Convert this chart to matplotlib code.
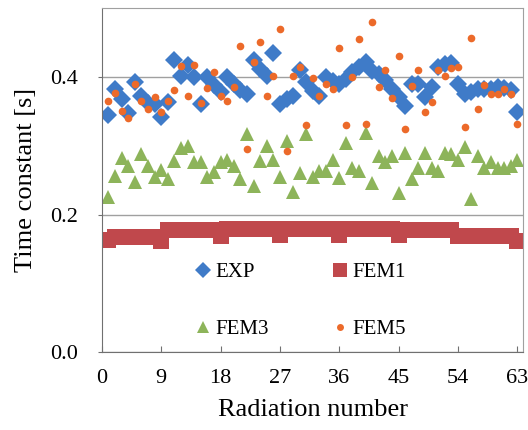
import matplotlib
matplotlib.use('Agg')
import matplotlib.pyplot as plt
from matplotlib.lines import Line2D
import numpy as np

plt.rcParams['font.family'] = ['Liberation Serif', 'DejaVu Serif']

# radiation number 1..63
radiation = np.arange(1, 64)

exp_tc = [0.345, 0.382, 0.368, 0.347, 0.393, 0.373, 0.362, 0.360, 0.342, 0.363,
          0.425, 0.401, 0.418, 0.400, 0.360, 0.400, 0.388, 0.378, 0.400, 0.390,
          0.381, 0.375, 0.424, 0.412, 0.402, 0.435, 0.360, 0.368, 0.372, 0.410,
          0.393, 0.380, 0.372, 0.400, 0.394, 0.390, 0.397, 0.407, 0.415, 0.422,
          0.409, 0.404, 0.395, 0.382, 0.371, 0.358, 0.390, 0.390, 0.371, 0.385,
          0.415, 0.419, 0.420, 0.390, 0.375, 0.378, 0.382, 0.382, 0.383, 0.385,
          0.384, 0.381, 0.349]

fem1_tc = [0.163, 0.168, 0.168, 0.168, 0.168, 0.168, 0.168, 0.168, 0.161,
           0.177, 0.177, 0.177, 0.177, 0.177, 0.177, 0.177, 0.177, 0.169,
           0.179, 0.179, 0.179, 0.179, 0.179, 0.179, 0.179, 0.179, 0.171,
           0.179, 0.179, 0.179, 0.179, 0.179, 0.179, 0.179, 0.179, 0.171,
           0.179, 0.179, 0.179, 0.179, 0.179, 0.179, 0.179, 0.179, 0.171,
           0.177, 0.177, 0.177, 0.177, 0.177, 0.177, 0.177, 0.177, 0.169,
           0.169, 0.169, 0.169, 0.169, 0.169, 0.169, 0.169, 0.169, 0.161]

fem3_tc = [0.225, 0.256, 0.282, 0.270, 0.247, 0.288, 0.270, 0.255, 0.265, 0.251,
           0.278, 0.297, 0.299, 0.277, 0.276, 0.254, 0.262, 0.277, 0.280, 0.270,
           0.251, 0.317, 0.241, 0.278, 0.300, 0.280, 0.254, 0.307, 0.233, 0.261,
           0.317, 0.255, 0.263, 0.264, 0.280, 0.253, 0.304, 0.268, 0.263, 0.318,
           0.246, 0.285, 0.276, 0.285, 0.232, 0.290, 0.251, 0.268, 0.290, 0.268,
           0.263, 0.290, 0.288, 0.280, 0.298, 0.222, 0.285, 0.268, 0.276, 0.268,
           0.268, 0.270, 0.280]

fem5_tc = [0.365, 0.377, 0.350, 0.340, 0.390, 0.365, 0.353, 0.371, 0.349, 0.365,
           0.381, 0.416, 0.372, 0.418, 0.362, 0.384, 0.407, 0.372, 0.365, 0.385,
           0.445, 0.295, 0.422, 0.451, 0.372, 0.401, 0.469, 0.293, 0.401, 0.414,
           0.330, 0.398, 0.372, 0.390, 0.382, 0.442, 0.330, 0.400, 0.455, 0.331,
           0.480, 0.385, 0.410, 0.369, 0.431, 0.324, 0.387, 0.410, 0.349, 0.363,
           0.410, 0.401, 0.413, 0.415, 0.328, 0.457, 0.353, 0.388, 0.375, 0.375,
           0.382, 0.375, 0.331]

xticks = [0, 9, 18, 27, 36, 45, 54, 63]
yticks = [0.0, 0.2, 0.4]

blue = '#3F7BC8'
red = '#C0484C'
green = '#8DB45A'
orange = '#EC6A2A'

fig = plt.figure(figsize=(5.28, 4.30), dpi=100)
ax = fig.add_axes([0.193, 0.181, 0.798, 0.800])

ax.plot(radiation, exp_tc, 'D', color=blue, ms=9.5, mew=0, label='EXP')
ax.plot(radiation, fem1_tc, 's', color=red, ms=11, mew=0, label='FEM1')
ax.plot(radiation, fem3_tc, '^', color=green, ms=10, mew=0, label='FEM3')
ax.plot(radiation, fem5_tc, 'o', color=orange, ms=5.5, mew=0, label='FEM5')

ax.set_xlim(0, 63.9)
ax.set_ylim(0, 0.5)
ax.set_xticks(xticks)
ax.set_yticks(yticks)
ax.set_yticklabels(['%.1f' % v for v in yticks])
ax.yaxis.grid(True, color='#a0a0a0', lw=1)
ax.set_axisbelow(True)

for s in ax.spines.values():
    s.set_color('#a0a0a0')
ax.spines['left'].set_color('#707070')
ax.spines['bottom'].set_color('#707070')

ax.tick_params(axis='x', direction='in', length=4, color='#707070',
               labelsize=16, pad=12)
ax.tick_params(axis='y', direction='out', length=3, color='#707070',
               labelsize=16, pad=14)

ax.set_xlabel('Radiation number', fontsize=19, labelpad=8)
ax.set_ylabel('Time constant [s]', fontsize=19, labelpad=10)

# legend: row 1 EXP, FEM1 / row 2 FEM3, FEM5 (ncol fills columns first)
handles = [
    Line2D([], [], ls='', marker='D', color=blue, ms=8, mew=0, label='EXP'),
    Line2D([], [], ls='', marker='^', color=green, ms=9, mew=0, label='FEM3'),
    Line2D([], [], ls='', marker='s', color=red, ms=10.5, mew=0, label='FEM1'),
    Line2D([], [], ls='', marker='o', color=orange, ms=5, mew=0, label='FEM5'),
]
ax.legend(handles=handles, ncol=2, loc='center', bbox_to_anchor=(0.47, 0.15),
          frameon=False, fontsize=15, labelspacing=1.8, columnspacing=3.0,
          handlelength=0.8, handletextpad=0.2)

fig.savefig('out.png', dpi=100)
